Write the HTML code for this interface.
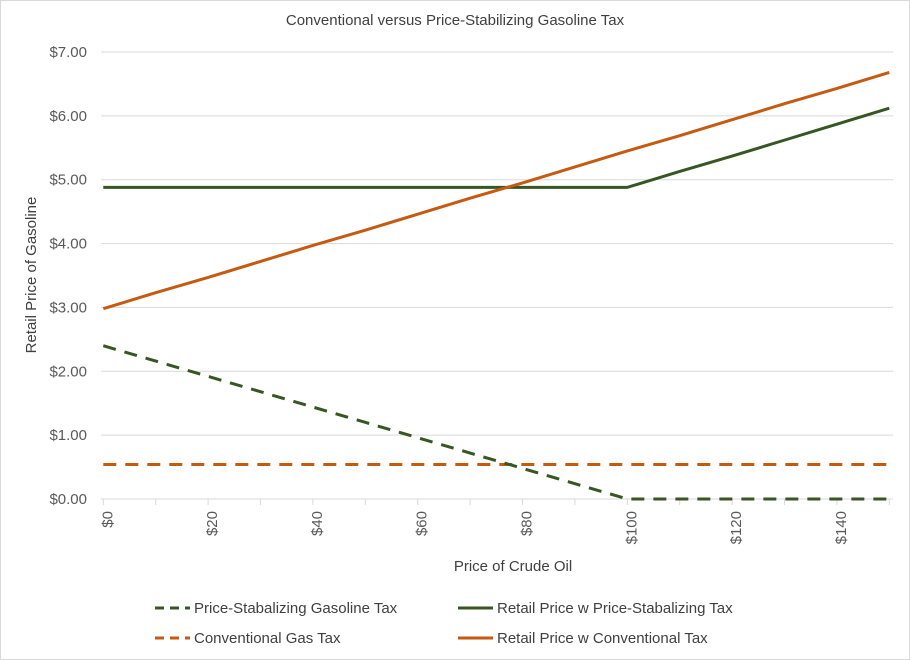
<!DOCTYPE html>
<html><head><meta charset="utf-8"><style>
body{margin:0;background:#fff}
svg{display:block;font-family:"Liberation Sans",sans-serif}
</style></head><body>
<svg width="910" height="660" id="c">
<rect x="0.5" y="0.5" width="909" height="659" fill="#fff" stroke="#d9d9d9"/>
<text x="455" y="25" text-anchor="middle" font-size="15" fill="#404040">Conventional versus Price-Stabilizing Gasoline Tax</text>
<text x="513" y="571" text-anchor="middle" font-size="15" fill="#404040">Price of Crude Oil</text>
<text transform="translate(36,275) rotate(-90)" text-anchor="middle" font-size="15" fill="#404040">Retail Price of Gasoline</text>
<g id="grid"></g><g id="ticks"></g><g id="series"></g>
<g font-size="15" fill="#404040">
<line x1="155" y1="608" x2="190" y2="608" stroke="#375623" stroke-width="3" stroke-dasharray="9,6"/>
<text x="194" y="613">Price-Stabalizing Gasoline Tax</text>
<line x1="458" y1="608" x2="493" y2="608" stroke="#375623" stroke-width="3"/>
<text x="497" y="613">Retail Price w Price-Stabalizing Tax</text>
<line x1="155" y1="638" x2="190" y2="638" stroke="#c55a11" stroke-width="3" stroke-dasharray="9,6"/>
<text x="194" y="643">Conventional Gas Tax</text>
<line x1="458" y1="638" x2="493" y2="638" stroke="#c55a11" stroke-width="3"/>
<text x="497" y="643">Retail Price w Conventional Tax</text>
</g>
</svg>
<script>
const crude=[0,10,20,30,40,50,60,70,80,90,100,110,120,130,140,150];
const stabTax=[2.40,2.16,1.92,1.68,1.44,1.20,0.96,0.72,0.48,0.24,0,0,0,0,0,0];
const stabRetail=[4.88,4.88,4.88,4.88,4.88,4.88,4.88,4.88,4.88,4.88,4.88,5.13,5.37,5.62,5.87,6.12];
const convTax=[0.54,0.54,0.54,0.54,0.54,0.54,0.54,0.54,0.54,0.54,0.54,0.54,0.54,0.54,0.54,0.54];
const convRetail=[2.98,3.23,3.47,3.72,3.97,4.21,4.46,4.71,4.95,5.20,5.45,5.69,5.94,6.19,6.43,6.68];
const yTicks=[0,1,2,3,4,5,6,7];
const xTicks=[0,20,40,60,80,100,120,140];
const NS='http://www.w3.org/2000/svg';
const X=v=>103.3+v*(889.3-103.3)/150;
const Y=v=>499-v*(499-52)/7;
function mk(tag,attrs,parent){const e=document.createElementNS(NS,tag);for(const k in attrs)e.setAttribute(k,attrs[k]);document.getElementById(parent).appendChild(e);return e;}
yTicks.forEach(t=>{
  const l=mk('line',{x1:101,x2:893,y1:Y(t),y2:Y(t),stroke:'#d9d9d9','stroke-width':1},'grid');
  
  
  const tx=mk('text',{x:87,y:Y(t)+5,'text-anchor':'end','font-size':15,fill:'#595959'},'ticks');
  tx.textContent='$'+t.toFixed(2);
  
  
});
for(let v=0;v<=150;v+=10){
  const l=mk('line',{x1:X(v),x2:X(v),y1:499,y2:505,stroke:'#d9d9d9'},'ticks');
  
  
}
xTicks.forEach(t=>{
  const tx=mk('text',{transform:`translate(${X(t)+9},511) rotate(-90)`,'text-anchor':'end','font-size':15,fill:'#595959'},'ticks');
  tx.textContent='$'+t;
  
  
});
function line(vals,color,dash,name){
  const p=mk('polyline',{points:crude.map((c,i)=>X(c)+','+Y(vals[i])).join(' '),fill:'none',stroke:color,'stroke-width':3,'stroke-dasharray':dash||'none','stroke-linejoin':'round'},'series');
  
  
}
line(convTax,'#c55a11','13,9','series-conventional-tax');
line(stabTax,'#375623','13,9','series-stabilizing-tax');
line(stabRetail,'#375623',null,'series-stabilizing-retail');
line(convRetail,'#c55a11',null,'series-conventional-retail');
</script>
</body></html>
